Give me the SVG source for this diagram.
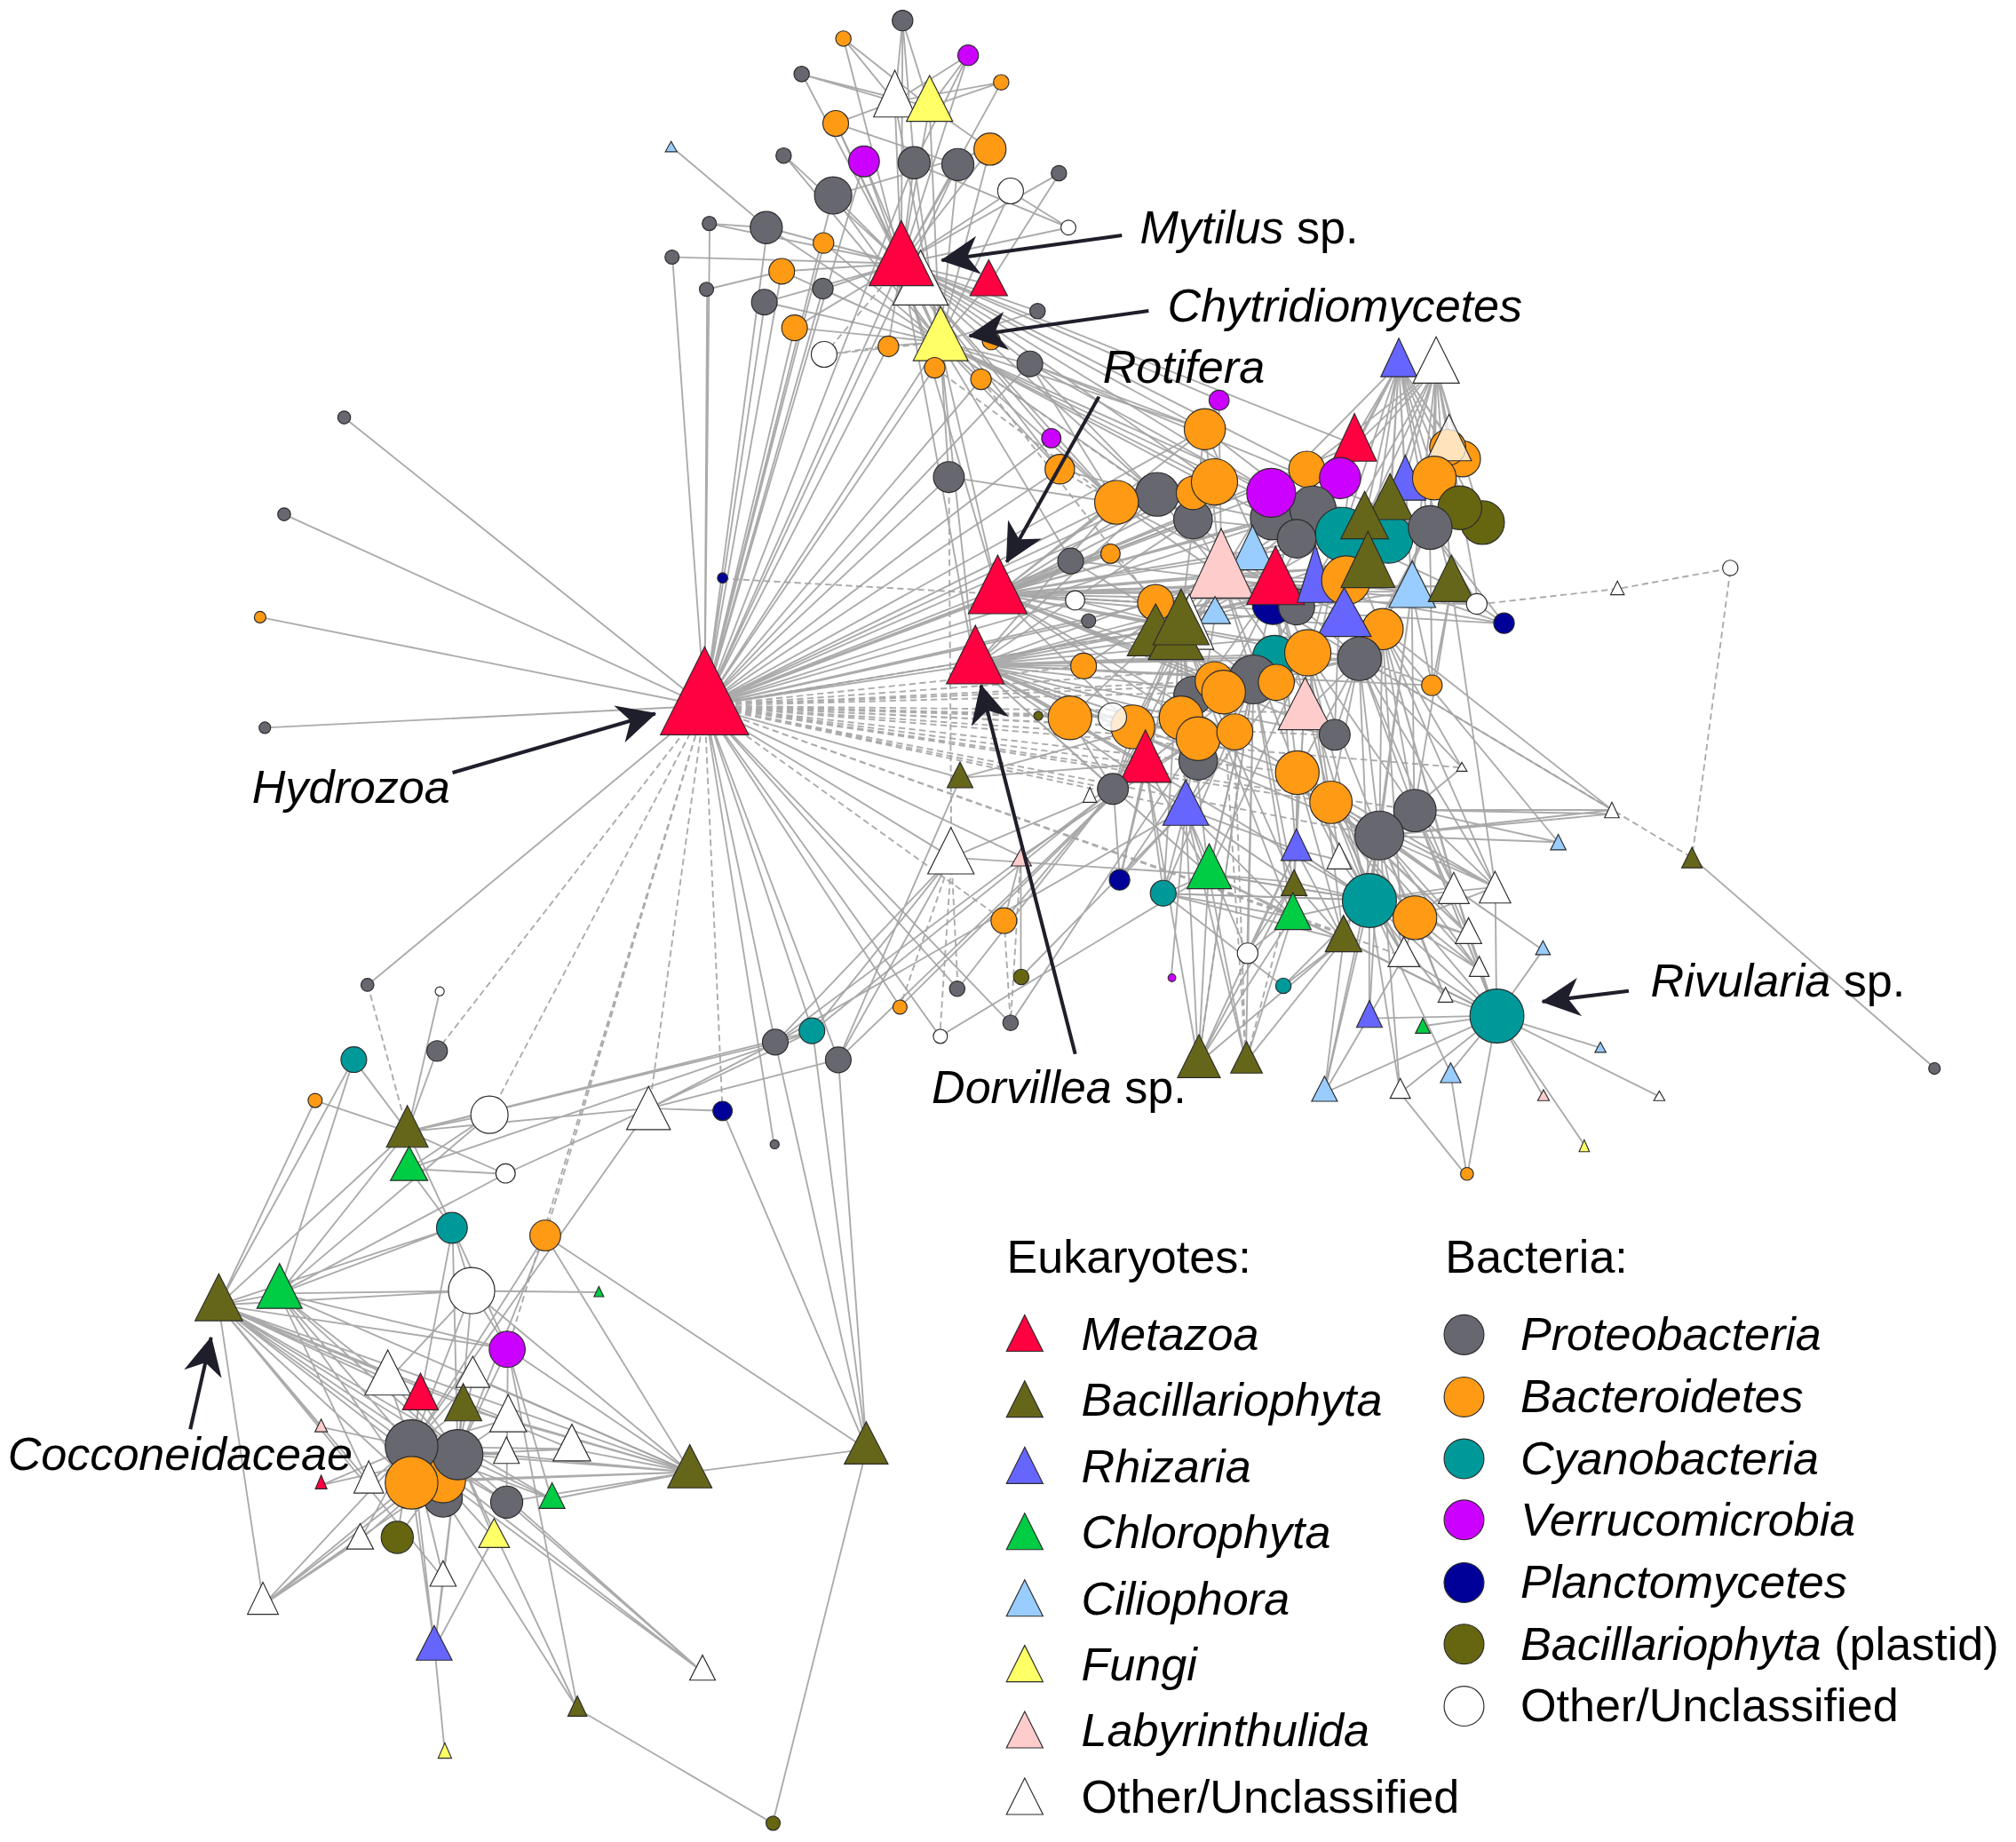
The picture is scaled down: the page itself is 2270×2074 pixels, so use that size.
<svg xmlns="http://www.w3.org/2000/svg" width="2270" height="2074" viewBox="0 0 2270 2074">
<defs>
<style>
.e{fill:none;stroke:#a2a2a2;stroke-width:1.3;stroke-opacity:.9}
.d{stroke-dasharray:5 3}
.n{stroke:#2b2b2b;stroke-width:.8}
.me{fill:#ff0040}.ba{fill:#66661a}.rh{fill:#6666ff}.ch{fill:#00cc44}.ci{fill:#99ccff}.fu{fill:#ffff66}.la{fill:#ffcccc}.wh{fill:#fff}
.pr{fill:#67676f}.bt{fill:#ff9a14}.cy{fill:#009999}.ve{fill:#cc00ff}.pl{fill:#000099}.bp{fill:#666611}
.lab{font-family:'Liberation Sans',Arial,sans-serif;font-size:36px;fill:#000}
.i{font-style:italic}
.arr{fill:none;stroke:#1f1f2b;stroke-width:2.8;marker-end:url(#ah)}
</style>
<marker id="ah" viewBox="0 0 30 30" refX="29" refY="15" markerWidth="30" markerHeight="30" orient="auto" markerUnits="userSpaceOnUse"><path d="M0,0 L30,15 L0,30 L9,15 Z" fill="#1f1f2b"/></marker>
</defs>
<rect width="2270" height="2074" fill="#fff"/>
<g transform="scale(1.4477)">
<g id="connectors">
<path class="e" d="M548,549L268,325M548,549L221,400M548,549L202,480M548,549L206,566M548,549L552,174M548,549L523,200M548,549L550,225M548,549L597,177M548,549L595,235M548,549L608,211M548,549L618,255M548,549L641,189M548,549L640,225M548,549L648,152M548,549L672,126M548,549L711,127M548,549L745,128M548,549L701,205M548,549L731,266M548,549L691,269M548,549L727,286M548,549L763,295M548,549L801,283M548,549L738,371M548,549L776,462M548,549L833,436M548,549L836,467M548,549L824,365M548,549L868,391M548,549L900,385M548,549L928,404M548,549L864,431M548,549L847,483M548,549L899,469M548,549L918,487M548,549L945,375M548,549L937,334M548,549L818,341M548,549L758,517M548,549L286,766M548,549L603,811M548,549L632,802M548,549L652,824M548,549L602,890M548,549L700,783M548,549L745,769M548,549L786,796M548,549L731,806M548,549L740,667M548,549L747,605M548,549L794,666M548,549L989,383M548,549L1021,396"/>
<path class="e d" d="M548,549L340,817M548,549L381,867M548,549L424,961M548,549L562,865M548,549L505,862M548,549L395,1049M548,549L842,518M548,549L832,558M548,549L865,558M548,549L881,565M548,549L918,558M548,549L932,575M548,549L960,569M548,549L951,538M548,549L890,594M548,549L1009,601M548,549L1038,572M548,549L1015,554M548,549L1073,650M548,549L1035,624M548,549L1100,630M548,549L866,614M548,549L922,629M548,549L1045,726M548,549L1092,744M548,549L1057,512M548,549L975,528M548,549L781,716M548,549L1137,597M562,450L899,469M548,549L992,531M548,549L918,487"/>
<path class="e" d="M701,205L702,16M701,205L656,30M701,205L753,43M701,205L624,58M701,205L696,79M701,205L723,83M701,205L779,64M701,205L650,96M701,205L672,126M701,205L711,127M701,205L745,128M701,205L770,116M701,205L610,121M701,205L648,152M701,205L786,149M701,205L824,135M701,205L831,177M701,205L597,177M701,205L641,189M701,205L608,211M701,205L640,225M701,205L595,235M701,205L618,255M701,205L691,269M701,205L769,221M701,205L807,242M701,205L727,286M701,205L763,295M701,205L801,283M701,205L523,200M701,205L552,174M701,205L818,341M701,205L824,365M701,205L868,391M701,205L900,385M701,205L937,334M701,205L948,311M701,205L1054,346M701,205L989,383M701,205L945,375M701,205L1016,365M701,205L776,462M701,205L758,517"/>
<path class="e" d="M731,266L696,79M731,266L723,83M731,266L650,96M731,266L672,126M731,266L711,127M731,266L745,128M731,266L770,116M731,266L648,152M731,266L786,149M731,266L597,177M731,266L641,189M731,266L608,211M731,266L640,225M731,266L595,235M731,266L618,255M731,266L691,269M731,266L769,221M731,266L807,242M731,266L727,286M731,266L763,295M731,266L801,283M731,266L824,365M731,266L868,391M731,266L928,404M731,266L937,334M731,266L1021,396M731,266L989,403M731,266L833,436M731,266L945,375M731,266L1044,416M731,266L776,462M731,266L758,517M731,266L738,371M731,266L610,121"/>
<path class="e" d="M696,79L702,16M696,79L656,30M696,79L624,58M696,79L650,96M696,79L753,43M696,79L779,64M723,83L702,16M723,83L753,43M723,83L779,64M723,83L656,30M723,83L770,116M723,83L624,58M753,43L711,127M702,16L711,127M522,114L597,177M552,174L597,177M550,225L608,211M786,149L831,177M831,177L711,127M824,135L769,221M650,96L745,128M648,152L770,116M801,283L868,391M801,283L900,385M801,283L937,334M801,283L1044,416M801,283L1112,410M738,371L868,391M818,341L868,391M824,365L900,385"/>
<path class="e d" d="M701,205L641,276M731,266L641,276M731,266L900,385M641,276L691,269M763,295L945,530M727,286L868,391M738,371L740,667M824,365L868,391"/>
<path class="e" d="M1088,283L1054,346M1088,283L1129,346M1088,283L1137,357M1088,283L1116,372M1088,283L1081,392M1088,283L1061,407M1088,283L1093,377M1088,283L1112,410M1088,283L1135,395M1088,283L1153,406M1088,283L1042,372M1088,283L1044,416M1088,283L1080,419M1088,283L1129,456M1088,283L1098,460M1088,283L1021,396M1088,283L1064,440M1088,283L989,383M1117,286L1054,346M1117,286L1129,346M1117,286L1137,357M1117,286L1116,372M1117,286L1081,392M1117,286L1061,407M1117,286L1112,410M1117,286L1135,395M1117,286L1153,406M1117,286L1042,372M1117,286L1080,419M1117,286L1129,456M1117,286L1098,460M1117,286L1064,440M1117,286L1016,365M1117,286L1044,416M1117,286L1150,470"/>
<path class="e" d="M776,462L833,436M776,462L868,391M776,462L900,385M776,462L928,404M776,462L937,334M776,462L945,375M776,462L989,403M776,462L1021,396M776,462L1044,416M776,462L1064,440M776,462L1098,460M776,462L1112,410M776,462L899,469M776,462L918,487M776,462L950,447M776,462L992,455M776,462L1047,451M776,462L1075,489M776,462L1057,512M776,462L1017,508M776,462L975,528M776,462L945,530M776,462L918,558M776,462L881,565M776,462L1009,601M776,462L1038,572M776,462L1150,470M776,462L1170,485M776,462L1015,554M776,462L1129,456M776,462L1016,365M776,462L1054,346"/>
<path class="e" d="M759,517L843,518M759,517L832,558M759,517L865,558M759,517L881,565M759,517L918,558M759,517L932,575M759,517L960,569M759,517L951,538M759,517L975,528M759,517L991,511M759,517L1017,508M759,517L1057,512M759,517L1075,489M759,517L1047,451M759,517L1023,455M759,517L992,455M759,517L950,447M759,517L918,487M759,517L899,497M759,517L868,391M759,517L900,385M759,517L928,404M759,517L1009,601M759,517L1035,624M759,517L1073,650M759,517L1065,700M759,517L922,629M759,517L940,680M759,517L1038,572M759,517L1114,533M759,517L891,594M759,517L866,614M759,517L932,592"/>
<path class="e" d="M950,447L868,391M950,447L900,385M950,447L928,404M950,447L937,334M950,447L989,383M950,447L1021,396M950,447L1044,416M950,447L1064,440M950,447L1098,460M950,447L1047,451M950,447L1017,508M950,447L975,528M950,447L918,487M950,447L899,469M950,447L843,518M950,447L832,558M950,447L881,565M950,447L1009,601M950,447L1057,512M950,447L866,614M950,447L922,629M950,447L1038,572M950,447L948,311M992,455L900,385M992,455L868,391M992,455L937,334M992,455L1016,365M992,455L1054,346M992,455L1112,410M992,455L1129,456M992,455L1150,470M992,455L1170,485M992,455L1075,489M992,455L1057,512M992,455L1017,508M992,455L951,538M992,455L918,558M992,455L899,469M992,455L833,436M992,455L1009,601M992,455L1035,624M992,455L940,680M992,455L1008,661M992,455L1065,700"/>
<path class="e" d="M918,487L833,436M918,487L836,467M918,487L864,431M918,487L937,334M918,487L1044,416M918,487L1021,396M918,487L1098,460M918,487L1064,440M918,487L975,528M918,487L951,538M918,487L881,565M918,487L932,575M918,487L960,569M918,487L866,614M918,487L922,629M918,487L940,680M918,487L1006,686M918,487L1005,713M918,487L871,684M918,487L905,695M1044,416L900,385M1044,416L928,404M1044,416L937,334M1044,416L1016,365M1044,416L1054,346M1044,416L1112,410M1044,416L1135,395M1044,416L1153,406M1044,416L1129,456M1044,416L1075,489M1044,416L1057,512M1044,416L1017,508M1044,416L975,528M1044,416L1015,554M1044,416L1038,572M1112,410L1021,396M1112,410L989,383M1112,410L1064,440M1112,410L1047,451M1112,410L1075,489M1112,410L1114,533M1112,410L1057,512M1112,410L1170,485M1112,410L1150,470"/>
<path class="e" d="M1057,512L1100,630M1057,512L1073,650M1057,512L1035,624M1057,512L1009,601M1057,512L1038,572M1057,512L1114,533M1057,512L1137,597M1057,512L1065,700M1057,512L1131,690M1057,512L1163,690M1057,512L1015,554M1057,512L951,538M1057,512L975,528M1057,512L1254,630M1017,508L1073,650M1017,508L1100,630M1017,508L1065,700M1017,508L1008,661M1017,508L1006,686M1017,508L1005,713M1017,508L1042,669M1017,508L1045,731M1017,508L922,629M1017,508L940,680M975,528L866,614M975,528L891,594M975,528L922,629M975,528L940,680M975,528L970,741M975,528L1006,686M975,528L1005,713M975,528L905,695M975,528L871,684M975,528L932,827M975,528L969,826M1075,489L1137,597M1075,489L1212,655M1075,489L1254,630M1075,489L1100,630M1075,489L1073,650M1075,489L1131,690M1075,489L1163,690M1075,489L1142,727M1075,489L1092,744M1098,460L1114,533M1098,460L1170,485M1098,460L1150,470M1098,460L1073,650M1098,460L1100,630M1098,460L1065,700M1129,456L1170,485M1129,456L1150,470M1129,456L1114,533M1129,456L1100,630M1129,456L1163,690"/>
<path class="e" d="M1009,601L1065,700M1009,601L1100,714M1009,601L1131,690M1009,601L1163,690M1009,601L1142,727M1009,601L1092,744M1009,601L1045,731M1009,601L1008,661M1009,601L1042,669M1035,624L1065,700M1035,624L1100,714M1035,624L1131,690M1035,624L1163,690M1035,624L1142,727M1035,624L1092,744M1035,624L1150,754M1035,624L1200,739M1073,650L1137,597M1073,650L1254,630M1073,650L1212,655M1073,650L1131,690M1073,650L1163,690M1073,650L1142,727M1073,650L1150,754M1073,650L1124,776M1073,650L1092,744M1073,650L1065,700M1073,650L1100,714M1073,650L1045,731M1073,650L1089,850M1073,650L1065,792M1073,650L1030,850M1073,650L1200,739M1073,650L1254,633M1100,630L1254,630M1100,630L1254,633M1100,630L1212,655M1100,630L1131,690M1100,630L1163,690M1100,630L1142,727M1100,630L1150,754M1100,630L1164,790"/>
<path class="e" d="M1065,700L1164,790M1065,700L1131,690M1065,700L1163,690M1065,700L1142,727M1065,700L1092,744M1065,700L1150,754M1065,700L1124,776M1065,700L1065,792M1065,700L1030,850M1065,700L1089,850M1065,700L1128,834M1065,700L998,767M1065,700L1006,686M1065,700L1005,713M1065,700L940,680M1065,700L905,695M1065,700L1042,669M1065,700L1008,661M1100,714L1164,790M1100,714L1131,690M1100,714L1163,690M1100,714L1142,727M1100,714L1150,754M1100,714L1092,744M1100,714L1124,776M866,614L832,558M866,614L881,565M866,614L891,594M866,614L932,575M866,614L871,684M866,614L603,811M866,614L632,802M891,594L871,684M891,594L905,695M891,594L940,680M891,594L932,827M891,594L652,824M922,629L932,827M922,629L969,826M922,629L871,684M922,629L905,695M922,629L940,680M922,629L1006,686M922,629L1005,713M922,629L1008,661M922,629L603,811M922,629L970,741M922,629L911,760"/>
<path class="e" d="M940,680L1006,686M940,680L1005,713M940,680L1045,731M940,680L932,827M940,680L969,826M940,680L1065,700M940,680L1164,790M940,680L905,695M905,695L998,767M905,695L1065,700M905,695L1005,713M905,695L1045,731M1008,661L1042,669M1008,661L1065,700M1008,661L1045,731M1008,661L932,827M1006,686L1045,731M1006,686L932,827M1005,713L932,827M1005,713L969,826M1005,713L1045,731M1045,731L1030,850M1045,731L932,827M1045,731L969,826M970,741L1005,713M970,741L1008,661M970,741L1006,686M998,767L1045,731"/>
<path class="e" d="M1164,790L1200,739M1164,790L1245,815M1164,790L1291,853M1164,790L1200,852M1164,790L1232,890M1164,790L1128,834M1164,790L1089,850M1164,790L1030,850M1164,790L1065,792M1164,790L1107,798M1164,790L1124,776M1164,790L1150,754M1164,790L1163,690M1164,790L1142,727M1164,790L1131,690M1164,790L1092,744M1164,790L1141,915M1164,790L1045,731M1030,850L1092,744M1128,834L1141,915M1089,850L1141,915M1316,667L1505,831"/>
<path class="e d" d="M1150,470L1258,458L1346,442L1316,667M1057,512L1316,667M960,569L969,826M951,538L969,826M975,528L932,827M1006,686L969,826"/>
<path class="e" d="M747,605L652,824M747,605L918,558M747,605L891,594M740,667L603,811M740,667L632,802M740,667L652,824M740,667L866,614M740,667L940,680M794,666L781,716M794,666L794,760M781,716L866,614M794,760L922,629M745,769L866,614M786,796L932,575M731,806L940,680M700,783L891,594M794,666L932,575M807,557L918,558"/>
<path class="e d" d="M740,667L745,769M740,667L731,806M740,667L700,783M794,666L786,796M781,716L786,796M286,766L317,880"/>
<path class="e" d="M170,1015L275,824M170,1015L245,856M170,1015L317,880M170,1015L352,955M170,1015L367,1004M170,1015L217,1006M170,1015L320,1125M170,1015L356,1131M170,1015L320,1153M170,1015L345,1151M170,1015L302,1073M170,1015L327,1088M170,1015L250,1110M170,1015L287,1153M170,1015L345,1228M170,1015L395,1049M170,1015L394,1168M170,1015L429,1166M170,1015L537,1145M170,1015L445,1127M170,1015L205,1248M170,1015L395,1104M217,1006L275,824M217,1006L317,880M217,1006L352,955M217,1006L381,867M217,1006L393,913M217,1006L367,1004M217,1006L320,1125M217,1006L356,1131M217,1006L320,1153M217,1006L302,1073M217,1006L395,1049M217,1006L537,1145M217,1006L287,1153"/>
<path class="e" d="M317,880L381,867M317,880L505,862M317,880L352,955M317,880L393,913M317,880L603,811M317,880L632,802M318,909L352,955M318,909L381,867M318,909L393,913M318,909L632,802M393,913L505,862M505,862L603,811M505,862L632,802M505,862L652,824M505,862L562,864M505,862L320,1125M562,864L674,1127M603,811L674,1127M632,802L674,1127M652,824L674,1127M275,824L317,880M245,856L317,880M340,817L317,880M342,771L317,880"/>
<path class="e" d="M352,955L320,1125M352,955L356,1131M352,955L367,1004M352,955L395,1049M424,961L537,1145M424,961L674,1127M424,961L320,1125M424,961L356,1131M367,1004L466,1005M367,1004L320,1125M367,1004L356,1131M367,1004L302,1073M367,1004L395,1049M367,1004L537,1145M395,1049L449,1327M395,1049L537,1145M395,1049L356,1131M395,1049L394,1168M395,1049L429,1166M537,1145L320,1125M537,1145L356,1131M537,1145L345,1151M537,1145L320,1153M537,1145L394,1168M537,1145L429,1166M537,1145L395,1104M537,1145L445,1127M537,1145L674,1127M537,1145L368,1071M537,1145L360,1095M674,1127L601,1418M449,1329L601,1418M449,1329L320,1125M449,1329L356,1131M546,1300L320,1125M546,1300L356,1131M546,1300L345,1151M546,1300L394,1168"/>
<path class="e" d="M338,1282L346,1363M338,1282L320,1125M338,1282L356,1131M338,1282L320,1153M338,1282L345,1228M338,1282L384,1196M205,1248L320,1125M205,1248L320,1153M205,1248L345,1151M205,1248L280,1198M205,1248L356,1131M280,1198L320,1125M280,1198L356,1131M320,1125L302,1073M320,1125L327,1088M320,1125L368,1071M320,1125L360,1095M320,1125L395,1104M320,1125L445,1127M320,1125L394,1131M320,1125L287,1153M320,1125L250,1110M320,1125L250,1155M320,1125L309,1196M320,1125L384,1196M320,1125L394,1168M320,1125L429,1166M320,1125L345,1228M356,1131L302,1073M356,1131L327,1088M356,1131L368,1071M356,1131L360,1095M356,1131L395,1104M356,1131L445,1127M356,1131L394,1131M356,1131L309,1196M356,1131L384,1196M356,1131L429,1166M356,1131L345,1228M356,1131L250,1155"/>
</g>
<g id="nodes">
<g id="t1"><circle class="n pr" cx="702" cy="16" r="8"/></g>
<g id="t2"><circle class="n bt" cx="656" cy="30" r="6"/></g>
<g id="t3"><circle class="n ve" cx="753" cy="43" r="8"/></g>
<g id="t4"><circle class="n pr" cx="623.5" cy="57.6" r="6"/></g>
<g id="t5"><circle class="n bt" cx="778.7" cy="64" r="6"/></g>
<g id="tt1"><polygon class="n wh" points="696,54.6 679.5,91 712.5,91"/></g>
<g id="tt2"><polygon class="n fu" points="723,58.7 705,94.4 741,94.4"/></g>
<g id="t6"><circle class="n bt" cx="650" cy="96" r="10"/></g>
<g id="t7"><circle class="n ve" cx="672" cy="125.5" r="12"/></g>
<g id="t8"><circle class="n pr" cx="711" cy="126.6" r="12.5"/></g>
<g id="t9"><circle class="n pr" cx="745" cy="128" r="12.5"/></g>
<g id="t10"><circle class="n bt" cx="770" cy="116" r="12.5"/></g>
<g id="t11"><circle class="n pr" cx="609.5" cy="121" r="6"/></g>
<g id="t12"><circle class="n pr" cx="648" cy="152" r="14.5"/></g>
<g id="t13"><circle class="n wh" cx="786" cy="148.5" r="10"/></g>
<g id="t14"><circle class="n pr" cx="823.6" cy="134.7" r="6"/></g>
<g id="t15"><circle class="n wh" cx="831" cy="177" r="5.8"/></g>
<g id="t16"><circle class="n pr" cx="596" cy="177" r="12.5"/></g>
<g id="t17"><circle class="n bt" cx="640.5" cy="189" r="8"/></g>
<g id="t18"><circle class="n bt" cx="608" cy="211" r="10"/></g>
<g id="t19"><circle class="n pr" cx="640" cy="224.5" r="8"/></g>
<g id="t20"><circle class="n pr" cx="594.5" cy="235" r="10"/></g>
<g id="t21"><circle class="n bt" cx="618" cy="255" r="10"/></g>
<g id="t22"><circle class="n wh" cx="641" cy="275.6" r="10"/></g>
<g id="t23"><circle class="n bt" cx="691" cy="269.4" r="8"/></g>
<g id="t24"><circle class="n pr" cx="807" cy="242" r="6"/></g>
<g id="t25"><circle class="n bt" cx="771" cy="265" r="7"/></g>
<g id="t28"><circle class="n pr" cx="801" cy="283" r="10"/></g>
<g id="t29"><circle class="n pr" cx="551.7" cy="173.8" r="5.5"/></g>
<g id="t30"><circle class="n pr" cx="522.7" cy="200" r="5.5"/></g>
<g id="t31"><circle class="n pr" cx="549.5" cy="225" r="5.5"/></g>
<g id="tt3"><polygon class="n ci" points="522,110 517.5,118 526.5,118"/></g>
<g id="tt4"><polygon class="n wh" points="716,194.6 694.5,237.2 737.5,237.2"/></g>
<g id="mytilus"><polygon class="n me" points="701,171.5 676,222.2 726,222.2"/></g>
<g id="tt5"><polygon class="n me" points="769,202 754.4,230 783.6,230"/></g>
<g id="chytridiomycetes"><polygon class="n fu" points="731.6,238.3 710.3,280.5 752.9,280.5"/></g>
<g id="t26"><circle class="n bt" cx="727" cy="286" r="8"/></g>
<g id="t27"><circle class="n bt" cx="763" cy="295" r="8"/></g>
<g id="t32"><circle class="n pr" cx="738" cy="371" r="12"/></g>
<g id="t33"><circle class="n ve" cx="817.7" cy="340.8" r="7.5"/></g>
<g id="t34"><circle class="n bt" cx="824.3" cy="364.9" r="11.5"/></g>
<g id="l1"><circle class="n pr" cx="267.7" cy="324.7" r="5"/></g>
<g id="l2"><circle class="n pr" cx="221" cy="400" r="5"/></g>
<g id="l3"><circle class="n bt" cx="202.3" cy="480" r="4.5"/></g>
<g id="l4"><circle class="n pr" cx="206" cy="566" r="4.5"/></g>
<g id="l5"><circle class="n pl" cx="562" cy="449.5" r="4"/></g>
<g id="hydrozoa"><polygon class="n me" points="548,503 513.7,571.5 582.3,571.5"/></g>
<g id="rotifera"><polygon class="n me" points="776,431.7 753.2,477.3 798.8,477.3"/></g>
<g id="dorvillea"><polygon class="n me" points="758.6,486.3 736.1,531.9 781.1,531.9"/></g>
<g id="m1"><polygon class="n ba" points="746.7,592.7 736.7,612.7 756.7,612.7"/></g>
<g id="m2"><polygon class="n wh" points="739.6,643.6 721.6,679.7 757.6,679.7"/></g>
<g id="m3"><polygon class="n la" points="794.4,659.7 786.6,673.5 802.2,673.5"/></g>
<g id="m4"><circle class="n bp" cx="807.6" cy="556.7" r="3.5"/></g>
<g id="m5"><circle class="n bt" cx="780.8" cy="716" r="10"/></g>
<g id="m6"><circle class="n bp" cx="794.3" cy="759.8" r="6"/></g>
<g id="m7"><circle class="n pr" cx="786" cy="795.5" r="6"/></g>
<g id="m8"><circle class="n bt" cx="700" cy="783.3" r="5.5"/></g>
<g id="m9"><circle class="n pr" cx="744.5" cy="769" r="6"/></g>
<g id="m10"><circle class="n wh" cx="731.4" cy="806" r="5.5"/></g>
<g id="r1"><polygon class="n rh" points="1088,263 1074,293 1102,293"/></g>
<g id="r2"><polygon class="n wh" points="1117,262 1099,298 1135,298"/></g>
<g id="r3"><circle class="n ve" cx="948.2" cy="311.3" r="7.8"/></g>
<g id="r4"><circle class="n bt" cx="937.1" cy="333.8" r="16"/></g>
<g id="r5"><polygon class="n me" points="1053.5,321.6 1036.3,358.7 1070.7,358.7"/></g>
<g id="r6"><circle class="n bt" cx="1137.5" cy="356.9" r="14"/></g>
<g id="r7"><circle class="n bt" cx="1126" cy="348" r="14"/></g>
<g id="r8"><polygon class="n wh" fill-opacity=".72" points="1127,322.3 1109.5,358.3 1144.5,358.3"/></g>
<g id="r9"><circle class="n bt" cx="1016.4" cy="364.9" r="14"/></g>
<g id="r10"><polygon class="n rh" points="1093,354 1077,389 1109,389"/></g>
<g id="r11"><circle class="n bt" cx="1115.6" cy="371.8" r="17"/></g>
<g id="r12"><circle class="n ve" cx="1042.3" cy="371.8" r="16"/></g>
<g id="r13"><circle class="n pr" cx="927.9" cy="404.1" r="15"/></g>
<g id="r14"><circle class="n pr" cx="900.1" cy="384.5" r="17"/></g>
<g id="r15"><circle class="n bt" cx="927.9" cy="383.4" r="13"/></g>
<g id="r16"><circle class="n bt" cx="944.6" cy="374.8" r="18"/></g>
<g id="r17"><circle class="n bt" cx="868.4" cy="390.7" r="17"/></g>
<g id="r18"><circle class="n pr" cx="989.5" cy="402.9" r="17"/></g>
<g id="r19"><circle class="n pr" cx="1021.2" cy="396" r="18"/></g>
<g id="r20"><circle class="n pr" cx="1008.5" cy="419" r="15"/></g>
<g id="r21"><circle class="n ve" cx="988.7" cy="383.3" r="19"/></g>
<g id="r22"><circle class="n cy" cx="1079.9" cy="419" r="19"/></g>
<g id="r23"><circle class="n cy" cx="1044.2" cy="415.6" r="21"/></g>
<g id="r24"><polygon class="n ba" points="1081.2,368.4 1063.2,404.1 1099.2,404.1"/></g>
<g id="r25"><polygon class="n ba" points="1061.4,382.2 1042.9,419 1079.9,419"/></g>
<g id="r26"><circle class="n bp" cx="1153.1" cy="406.4" r="17"/></g>
<g id="r27"><circle class="n bp" cx="1135.4" cy="394.9" r="17"/></g>
<g id="r28"><circle class="n pr" cx="1112.4" cy="410.3" r="17"/></g>
<g id="r29"><circle class="n pr" cx="832.7" cy="436.3" r="10"/></g>
<g id="r30"><circle class="n bt" cx="863.7" cy="430.6" r="7.5"/></g>
<g id="r31"><circle class="n wh" cx="836.2" cy="466.9" r="7.5"/></g>
<g id="r32"><circle class="n pr" cx="846.7" cy="482.8" r="5.5"/></g>
<g id="r33"><polygon class="n ci" points="974.2,408.7 957.7,443.2 990.7,443.2"/></g>
<g id="r34"><circle class="n pl" cx="990" cy="469.7" r="16"/></g>
<g id="r35"><circle class="n pr" cx="1008.5" cy="472" r="14"/></g>
<g id="r36"><polygon class="n la" points="949.8,411 924.6,465.1 975,465.1"/></g>
<g id="r37"><polygon class="n me" points="992.1,424.8 969.6,470.2 1014.6,470.2"/></g>
<g id="r38"><polygon class="n rh" points="1023,423.6 1009,468.5 1037,468.5"/></g>
<g id="r39"><circle class="n bt" cx="1046.9" cy="451.3" r="19"/></g>
<g id="r40"><polygon class="n ba" points="1064,413.3 1043,457 1085,457"/></g>
<g id="r41"><polygon class="n ci" points="1098.4,436.3 1080.2,472.5 1116.6,472.5"/></g>
<g id="r42"><polygon class="n ba" points="1128.8,431.7 1110.9,467.9 1146.7,467.9"/></g>
<g id="r43"><circle class="n wh" cx="1148.6" cy="469.7" r="8"/></g>
<g id="r44"><circle class="n pl" cx="1169.8" cy="484.7" r="8"/></g>
<g id="r45"><circle class="n bt" cx="898.8" cy="468.6" r="14"/></g>
<g id="r46"><polygon class="n ci" points="945,464 933,485 957,485"/></g>
<g id="r47"><polygon class="n wh" points="925,462 906,505 944,505"/></g>
<g id="r48"><polygon class="n ba" points="898.8,469.7 876.8,510 920.8,510"/></g>
<g id="r49"><polygon class="n ba" points="914.7,472 893.2,513 936.2,513"/></g>
<g id="r50"><polygon class="n ba" points="918.6,458.2 896.8,501.5 940.4,501.5"/></g>
<g id="r51"><circle class="n bt" cx="1075.4" cy="489.3" r="16"/></g>
<g id="r52"><polygon class="n rh" points="1045.5,457 1024.5,495 1066.5,495"/></g>
<g id="r53"><circle class="n bt" cx="1113.7" cy="533" r="8"/></g>
<g id="r54"><circle class="n cy" cx="991.3" cy="511.1" r="17"/></g>
<g id="r55"><circle class="n pr" cx="1057.4" cy="512.3" r="17"/></g>
<g id="r56"><circle class="n bt" cx="842.8" cy="518" r="10"/></g>
<g id="r57"><circle class="n pr" cx="927.9" cy="541" r="15"/></g>
<g id="r58"><circle class="n bt" cx="944.6" cy="529.6" r="15"/></g>
<g id="r59"><circle class="n pr" cx="975" cy="528.4" r="19"/></g>
<g id="r60"><circle class="n bt" cx="992.7" cy="530.7" r="14"/></g>
<g id="r61"><circle class="n bt" cx="951.7" cy="538.3" r="17"/></g>
<g id="r62"><circle class="n bt" cx="1017.2" cy="507.7" r="18"/></g>
<g id="r63"><circle class="n bt" cx="832.2" cy="558.3" r="17"/></g>
<g id="r64"><circle class="n bt" cx="881.1" cy="565.3" r="17"/></g>
<g id="r65"><circle class="n wh" fill-opacity=".8" cx="865.2" cy="557.7" r="11"/></g>
<g id="r66"><circle class="n bt" cx="918.6" cy="558.3" r="17"/></g>
<g id="r67"><circle class="n pr" cx="931.9" cy="591.7" r="15"/></g>
<g id="r68"><circle class="n bt" cx="931.9" cy="574.5" r="17"/></g>
<g id="r69"><circle class="n bt" cx="960.4" cy="569.2" r="14"/></g>
<g id="r70"><polygon class="n la" points="1015.1,526.8 994.2,567.5 1036,567.5"/></g>
<g id="r71"><circle class="n pr" cx="1038.1" cy="571.5" r="12"/></g>
<g id="r72"><polygon class="n me" points="890.9,567.6 870.9,608.5 910.9,608.5"/></g>
<g id="r73"><circle class="n pr" cx="865.6" cy="613.6" r="12"/></g>
<g id="r74"><polygon class="n wh" points="847.7,612.4 842.4,624 853,624"/></g>
<g id="r75"><polygon class="n rh" points="922.3,606.7 904.5,641.9 940.1,641.9"/></g>
<g id="r76"><circle class="n bt" cx="1009" cy="600.9" r="17"/></g>
<g id="r77"><circle class="n bt" cx="1035.2" cy="624" r="16.5"/></g>
<g id="r78"><circle class="n pr" cx="1100.5" cy="630.4" r="16.5"/></g>
<g id="r79"><circle class="n pr" cx="1072.8" cy="649.8" r="19"/></g>
<g id="r80"><polygon class="n wh" points="1137,592.9 1133,599.8 1141,599.8"/></g>
<g id="r81"><polygon class="n wh" points="1253.7,624 1248,636 1259.4,636"/></g>
<g id="r82"><polygon class="n ci" points="1212,649 1206,661 1218,661"/></g>
<g id="r83"><polygon class="n ba" points="1316,659 1308,675 1324,675"/></g>
<g id="r84"><polygon class="n wh" points="1258,452 1252.7,462.5 1263.3,462.5"/></g>
<g id="r85"><circle class="n wh" cx="1345.8" cy="441.7" r="6"/></g>
<g id="r86"><circle class="n pr" cx="1504.6" cy="831" r="4.5"/></g>
<g id="r87"><polygon class="n rh" points="1008.3,644.7 996.4,669.3 1020.2,669.3"/></g>
<g id="r88"><polygon class="n wh" points="1041.6,655.7 1032.1,675.8 1051.1,675.8"/></g>
<g id="r89"><polygon class="n ba" points="1006.5,676.5 996.5,696.5 1016.5,696.5"/></g>
<g id="r90"><polygon class="n ch" points="1005.6,694.2 991.4,723 1019.8,723"/></g>
<g id="r91"><polygon class="n ch" points="940.5,656.2 923.2,691.2 957.8,691.2"/></g>
<g id="r92"><circle class="n pl" cx="870.8" cy="684.3" r="8"/></g>
<g id="r93"><circle class="n cy" cx="904.7" cy="694.7" r="10"/></g>
<g id="r94"><polygon class="n wh" points="1130.7,678.5 1118.7,702.7 1142.7,702.7"/></g>
<g id="r95"><polygon class="n wh" points="1162.8,677.6 1150.6,702.3 1175,702.3"/></g>
<g id="r96"><polygon class="n ba" points="1045,711.9 1030.8,740.2 1059.2,740.2"/></g>
<g id="r97"><circle class="n cy" cx="1065.1" cy="700.4" r="21"/></g>
<g id="r98"><circle class="n bt" cx="1100.5" cy="713.8" r="17"/></g>
<g id="r99"><polygon class="n wh" points="1142.2,713.8 1132,733.8 1152.4,733.8"/></g>
<g id="r100"><polygon class="n wh" points="1091.9,728.7 1079.6,751.8 1104.2,751.8"/></g>
<g id="r101"><polygon class="n wh" points="1150.5,743.7 1142.8,759.4 1158.2,759.4"/></g>
<g id="r102"><polygon class="n ci" points="1200.1,731.7 1194.4,742.5 1205.8,742.5"/></g>
<g id="r103"><circle class="n wh" cx="970.4" cy="741.4" r="8"/></g>
<g id="r104"><circle class="n ve" cx="911.5" cy="760.5" r="3"/></g>
<g id="r105"><circle class="n cy" cx="998.2" cy="766.7" r="6"/></g>
<g id="r106"><polygon class="n wh" points="1124.3,767.9 1118.6,779.4 1130,779.4"/></g>
<g id="r107"><polygon class="n rh" points="1065.1,778.2 1055.1,799 1075.1,799"/></g>
<g id="r108"><polygon class="n ch" points="1106.7,792 1100.9,803.6 1112.5,803.6"/></g>
<g id="rivularia"><circle class="n cy" cx="1164.3" cy="790.2" r="21"/></g>
<g id="r109"><polygon class="n ba" points="932.5,804.7 915.9,838.1 949.1,838.1"/></g>
<g id="r110"><polygon class="n ba" points="969.5,810 957.2,834.6 981.8,834.6"/></g>
<g id="r111"><polygon class="n ci" points="1030.2,837 1020.2,856.5 1040.2,856.5"/></g>
<g id="r112"><polygon class="n wh" points="1089.1,838.8 1081.2,854.2 1097,854.2"/></g>
<g id="r113"><polygon class="n ci" points="1128.3,826.6 1120.3,842 1136.3,842"/></g>
<g id="r114"><polygon class="n la" points="1200.5,847.5 1196,856 1205,856"/></g>
<g id="r115"><polygon class="n fu" points="1232.2,886.5 1228.2,895.7 1236.2,895.7"/></g>
<g id="r116"><polygon class="n wh" points="1290.6,848.5 1286.3,856 1294.9,856"/></g>
<g id="r117"><polygon class="n ci" points="1244.8,810.5 1240.5,818.5 1249.1,818.5"/></g>
<g id="r118"><circle class="n bt" cx="1141" cy="913" r="5"/></g>
<g id="b1"><circle class="n pr" cx="285.8" cy="766" r="5"/></g>
<g id="b2"><circle class="n wh" cx="342" cy="771" r="3.5"/></g>
<g id="b3"><circle class="n cy" cx="275.2" cy="824.1" r="10"/></g>
<g id="b4"><circle class="n pr" cx="340" cy="817.4" r="8"/></g>
<g id="b5"><circle class="n bt" cx="245.1" cy="855.9" r="5.5"/></g>
<g id="b6"><polygon class="n ba" points="316.8,859.8 300.6,892.3 333,892.3"/></g>
<g id="b7"><polygon class="n ch" points="318.2,891.5 303.7,918.1 332.7,918.1"/></g>
<g id="b8"><circle class="n wh" cx="380.7" cy="867" r="14.5"/></g>
<g id="b9"><circle class="n wh" cx="393.2" cy="912.6" r="7.5"/></g>
<g id="b10"><polygon class="n wh" points="504.4,845 487.4,878.5 521.4,878.5"/></g>
<g id="b11"><circle class="n pl" cx="562" cy="864" r="7.5"/></g>
<g id="b12"><circle class="n pr" cx="603" cy="810.5" r="10"/></g>
<g id="b13"><circle class="n cy" cx="631.5" cy="801.7" r="10"/></g>
<g id="b14"><circle class="n pr" cx="652" cy="824.3" r="10"/></g>
<g id="b15"><circle class="n pr" cx="602.5" cy="890" r="3.5"/></g>
<g id="b16"><circle class="n cy" cx="351.5" cy="955" r="12"/></g>
<g id="b17"><circle class="n bt" cx="424.1" cy="960.9" r="12"/></g>
<g id="cocconeidaceae"><polygon class="n ba" points="170.2,990.7 151.7,1027.2 188.7,1027.2"/></g>
<g id="b18"><polygon class="n ch" points="217.4,982.7 199.8,1017.6 235,1017.6"/></g>
<g id="b19"><circle class="n wh" cx="366.8" cy="1003.8" r="18"/></g>
<g id="b20"><polygon class="n ch" points="465.8,1000.6 462,1008.5 469.6,1008.5"/></g>
<g id="b21"><circle class="n ve" cx="394.5" cy="1049.4" r="14"/></g>
<g id="b22"><polygon class="n wh" points="301.6,1050 283.8,1085 319.4,1085"/></g>
<g id="b23"><polygon class="n wh" points="367.7,1055 354.5,1079 380.9,1079"/></g>
<g id="b24"><polygon class="n me" points="327,1068 313.1,1096.5 340.9,1096.5"/></g>
<g id="b25"><polygon class="n ba" points="360.3,1076 345.9,1105 374.7,1105"/></g>
<g id="b26"><polygon class="n wh" points="395.3,1084.7 381,1113.6 409.6,1113.6"/></g>
<g id="b27"><polygon class="n wh" points="444.8,1107.7 430.2,1136.2 459.4,1136.2"/></g>
<g id="b28"><polygon class="n wh" points="393.9,1117.6 383.9,1138.2 403.9,1138.2"/></g>
<g id="b29"><polygon class="n la" points="249.8,1103.7 245,1113.6 254.6,1113.6"/></g>
<g id="b30"><polygon class="n me" points="249.8,1147.3 245.3,1158 254.3,1158"/></g>
<g id="b31"><polygon class="n wh" points="286.8,1136.2 275.3,1161.2 298.3,1161.2"/></g>
<g id="b32"><circle class="n pr" cx="344.6" cy="1165" r="15"/></g>
<g id="b33"><circle class="n bt" cx="344.6" cy="1151.3" r="17.5"/></g>
<g id="b34"><circle class="n pr" cx="356.1" cy="1131.4" r="19.5"/></g>
<g id="b35"><circle class="n pr" cx="320.1" cy="1124.7" r="20.5"/></g>
<g id="b36"><circle class="n bt" cx="320.1" cy="1153.2" r="20.5"/></g>
<g id="b37"><circle class="n pr" cx="394.1" cy="1168.3" r="12.5"/></g>
<g id="b38"><polygon class="n ch" points="429.4,1153.2 419.4,1173.1 439.4,1173.1"/></g>
<g id="b39"><circle class="n bp" cx="309" cy="1195.7" r="12.5"/></g>
<g id="b40"><polygon class="n wh" points="280.1,1185 269.7,1204.8 290.5,1204.8"/></g>
<g id="b41"><polygon class="n fu" points="384.3,1181 372.3,1203.6 396.3,1203.6"/></g>
<g id="b42"><polygon class="n wh" points="344.6,1213.9 334.4,1233.7 354.8,1233.7"/></g>
<g id="b43"><polygon class="n wh" points="204.5,1230.6 192.5,1255.5 216.5,1255.5"/></g>
<g id="b44"><polygon class="n rh" points="337.7,1264.3 323.8,1291.2 351.6,1291.2"/></g>
<g id="b45"><polygon class="n wh" points="546.4,1287.3 536.4,1306.7 556.4,1306.7"/></g>
<g id="b46"><polygon class="n ba" points="449.1,1319 441.7,1334.8 456.5,1334.8"/></g>
<g id="b47"><polygon class="n fu" points="346,1355.5 340.8,1367.4 351.2,1367.4"/></g>
<g id="b48"><polygon class="n ba" points="536.5,1123.5 519.3,1157.2 553.7,1157.2"/></g>
<g id="b49"><polygon class="n ba" points="673.7,1105.7 656.7,1138.6 690.7,1138.6"/></g>
<g id="b50"><circle class="n bp" cx="601.3" cy="1418" r="5.5"/></g>
</g>
<g id="annotations">
<path class="arr" d="M872.6,183 L732.5,202.4"/>
<path class="arr" d="M893.4,241.8 L754,261.3"/>
<path class="arr" d="M854.7,308.5 L783,437"/>
<path class="arr" d="M352,601 L509.6,555"/>
<path class="arr" d="M836.3,819.7 L762.9,533"/>
<path class="arr" d="M1266.8,770.7 L1199.7,779"/>
<path class="arr" d="M148,1111.6 L164.2,1040.3"/>
<text class="lab i" x="886.5" y="189">Mytilus<tspan font-style="normal"> sp.</tspan></text>
<text class="lab i" x="908" y="250">Chytridiomycetes</text>
<text class="lab i" x="857.7" y="298">Rotifera</text>
<text class="lab i" x="196" y="624.5">Hydrozoa</text>
<text class="lab i" x="724.6" y="858">Dorvillea<tspan font-style="normal"> sp.</tspan></text>
<text class="lab i" x="1283.8" y="775">Rivularia<tspan font-style="normal"> sp.</tspan></text>
<text class="lab i" x="6" y="1143">Cocconeidaceae</text>
</g>
<g id="legend">
<text class="lab" x="783" y="990">Eukaryotes:</text>
<text class="lab" x="1124" y="990">Bacteria:</text>
<polygon class="n me" points="797,1022.7 782.8,1051 811.2,1051"/>
<polygon class="n ba" points="797,1073.9 782.8,1102.2 811.2,1102.2"/>
<polygon class="n rh" points="797,1125.5 782.8,1153.8 811.2,1153.8"/>
<polygon class="n ch" points="797,1176.9 782.8,1205.2 811.2,1205.2"/>
<polygon class="n ci" points="797,1228.7 782.8,1257 811.2,1257"/>
<polygon class="n fu" points="797,1279.7 782.8,1308 811.2,1308"/>
<polygon class="n la" points="797,1331.1 782.8,1359.4 811.2,1359.4"/>
<polygon class="n wh" points="797,1382.9 782.8,1411.2 811.2,1411.2"/>
<text class="lab i" x="841" y="1050">Metazoa</text>
<text class="lab i" x="841" y="1101">Bacillariophyta</text>
<text class="lab i" x="841" y="1153">Rhizaria</text>
<text class="lab i" x="841" y="1204">Chlorophyta</text>
<text class="lab i" x="841" y="1256">Ciliophora</text>
<text class="lab i" x="841" y="1307">Fungi</text>
<text class="lab i" x="841" y="1358">Labyrinthulida</text>
<text class="lab" x="841" y="1410">Other/Unclassified</text>
<circle class="n pr" cx="1138.7" cy="1038.1" r="15.5"/>
<circle class="n bt" cx="1138.7" cy="1086.5" r="15.5"/>
<circle class="n cy" cx="1138.7" cy="1134.6" r="15.5"/>
<circle class="n ve" cx="1138.7" cy="1182.1" r="15.5"/>
<circle class="n pl" cx="1138.7" cy="1230.9" r="15.5"/>
<circle class="n bp" cx="1138.7" cy="1278.7" r="15.5"/>
<circle class="n wh" cx="1138.7" cy="1327" r="15.5"/>
<text class="lab i" x="1182.5" y="1050">Proteobacteria</text>
<text class="lab i" x="1182.5" y="1098.5">Bacteroidetes</text>
<text class="lab i" x="1182.5" y="1146.6">Cyanobacteria</text>
<text class="lab i" x="1182.5" y="1194">Verrucomicrobia</text>
<text class="lab i" x="1182.5" y="1243">Planctomycetes</text>
<text class="lab i" x="1182.5" y="1290.7">Bacillariophyta<tspan font-style="normal"> (plastid)</tspan></text>
<text class="lab" x="1182.5" y="1339">Other/Unclassified</text>
</g>
</g>
</svg>
